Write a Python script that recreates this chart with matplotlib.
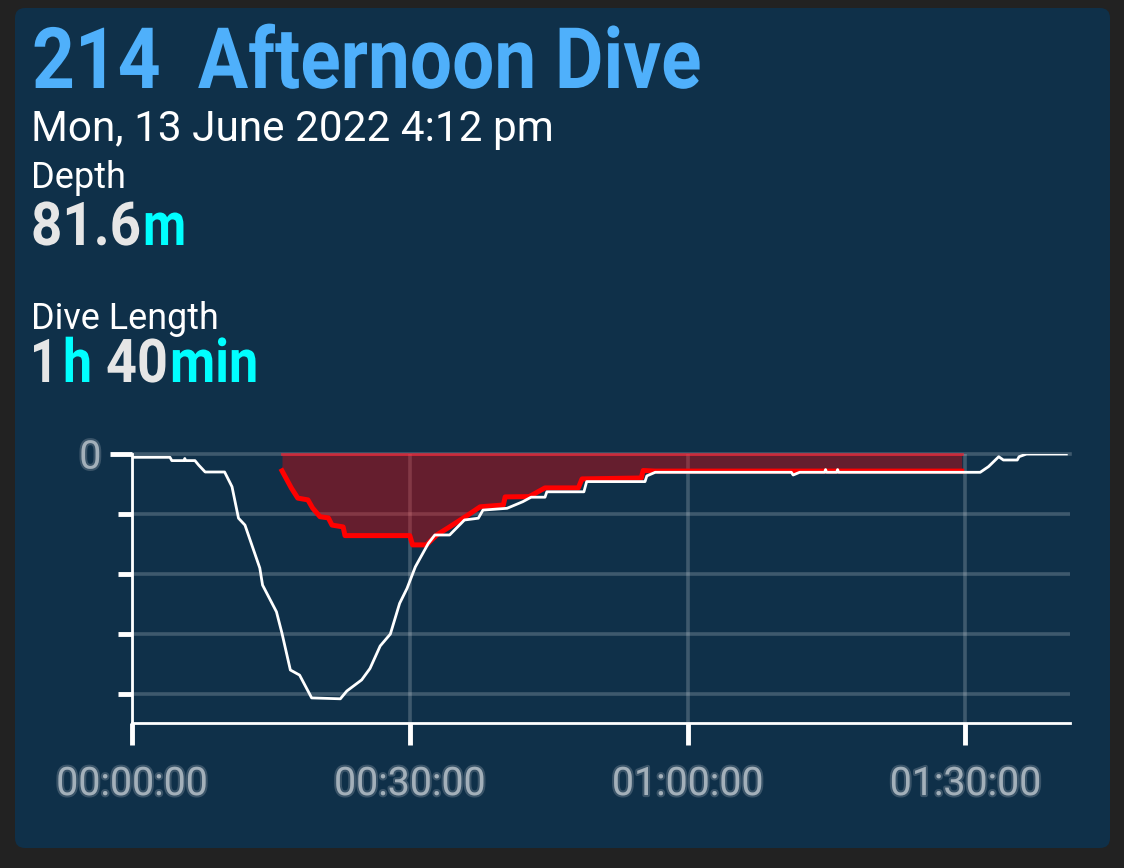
import matplotlib
matplotlib.use("Agg")
import matplotlib.pyplot as plt
import matplotlib.patheffects as pe
from matplotlib.patches import FancyBboxPatch
from matplotlib.transforms import Affine2D

W, H = 1124, 868

depth_time = [0.1, 4.1, 4.3, 5.6, 5.7, 5.8, 6.8, 7.2, 7.9, 10, 10.8, 11.5, 12.2, 13.8, 14.1, 15.6, 16.2, 17.1, 18.1,
              19.4, 22.5, 23.2, 24.8, 25.7, 26.8, 27.9, 28.9, 29.7, 30.6, 32, 32.7, 34.3, 35.9, 37.4, 37.9, 40.5,
              42.2, 43.1, 44.6, 44.8, 48.8, 49.1, 55.4, 55.6, 56.5, 71.2, 71.4, 72.1, 74.8, 74.9, 75.0, 76.1, 76.2,
              76.3, 91.6, 92.5, 93.6, 94.1, 95.6, 95.8, 96.6, 98.2, 100.9]
depth_m = [1.1, 1.1, 2.2, 2.2, 1.5, 2.2, 2.2, 3.7, 6, 6, 10.9, 21.4, 23.7, 38, 43.7, 52.6, 59.8, 72, 73.7,
           81.3, 81.6, 79, 75.3, 71.5, 64, 60, 49.8, 44.8, 37.6, 29.8, 27, 27, 22, 21.4, 18.7, 18.1,
           15.9, 14.4, 14.4, 12.6, 12.6, 9.2, 9.2, 7.3, 6.1, 6.1, 7, 6.1, 6.1, 5.2, 6.1, 6.1, 5.2,
           6.1, 6.1, 4.2, 0.9, 2, 2, 0.9, 0, 0, 0]
ceil_time = [16.2, 17.2, 17.9, 19, 19.5, 20.3, 21.2, 21.6, 22.8, 23, 30, 30.3, 31.8, 32.9, 34.3, 36.3, 37.6,
             40.1, 40.3, 42.9, 44.6, 48.2, 48.6, 55, 55.2, 56.5, 89.6]
ceil_m = [5.6, 11.3, 14.7, 15.3, 18, 20.9, 21.3, 23.7, 24.3, 27.2, 27.2, 30.3, 30.3, 27, 24.3, 20.3, 17.6,
          17, 14.3, 14.2, 11.3, 11.3, 8.3, 8, 5.5, 5.7, 5.7]
x_tick_min = [0, 30, 60, 90]
x_tick_labels = ["00:00:00", "00:30:00", "01:00:00", "01:30:00"]
y_tick_m = [0, 20, 40, 60, 80]
y_tick_labels = ["0", "", "", "", ""]

BG = "#222222"
PANEL = "#0f3049"

fig = plt.figure(figsize=(W / 100, H / 100), dpi=100, facecolor=BG)
bgax = fig.add_axes([0, 0, 1, 1])
bgax.set_xlim(0, W); bgax.set_ylim(H, 0); bgax.axis("off")
bgax.add_patch(FancyBboxPatch((23, 16), 1079, 824, boxstyle="round,pad=8,rounding_size=10",
                              fc=PANEL, ec="none"))
renderer = fig.canvas.get_renderer()


class Squeeze(pe.AbstractPathEffect):
    """Draws a text narrower around a fixed pixel column (no condensed font is installed)."""
    def __init__(self, anchor, factor):
        super().__init__()
        self.anchor, self.factor = anchor, factor

    def draw_path(self, rend, gc, tpath, affine, rgbFace=None):
        squeeze = Affine2D().translate(-self.anchor, 0).scale(self.factor, 1).translate(self.anchor, 0)
        rend.draw_path(gc, tpath, affine + squeeze, rgbFace)


def txt(x, y, s, size, color="white", weight="normal"):
    return bgax.text(x, y, s, fontsize=size, color=color, fontweight=weight,
                     family="Roboto", ha="left", va="baseline")


def cond(x0, x1, y, s, size, color, align="left"):
    """Bold text squeezed to span x0..x1 px; align picks the side its box is anchored on."""
    anchor = x0 if align == "left" else x1
    t = bgax.text(anchor, y, s, fontsize=size, color=color, fontweight="bold",
                  family="Roboto", ha=align, va="baseline")
    natural = t.get_window_extent(renderer).width
    t.set_path_effects([Squeeze(anchor, (x1 - x0) / natural)])
    return t


cond(32, 702, 88, "214  Afternoon Dive", 61, "#4fb0fb")
txt(31, 141, "Mon, 13 June 2022 4:12 pm", 30.4)
txt(31, 188, "Depth", 26)
cond(31, 141, 245, "81.6", 43.5, "#e6e6e6", "right")
cond(143, 186, 245, "m", 43.5, "#00ffff")
txt(31, 329, "Dive Length", 25.8)
cond(30, 58, 382, "1", 43.5, "#e6e6e6", "right")
cond(63, 92, 382, "h", 43.5, "#00ffff")
cond(106, 168, 382, "40", 43.5, "#e6e6e6", "right")
cond(170, 258, 382, "min", 43.5, "#00ffff")

# plot axes: left 132 px, right 1070 px, top 454 px (0 m), bottom 723 px
L, R, T, B = 132, 1070, 454, 723
ax = fig.add_axes([L / W, 1 - B / H, (R - L) / W, (B - T) / H])
ax.patch.set_alpha(0)
ax.set_xlim(0, (R - L) / 9.26)
ax.set_ylim((B - T) / 3.0, 0)
for s in ("top", "right"):
    ax.spines[s].set_visible(False)
for s in ("left", "bottom"):
    ax.spines[s].set_color("white")
    ax.spines[s].set_linewidth(2)

ax.set_xticks(x_tick_min, x_tick_labels)
ax.set_yticks(y_tick_m, y_tick_labels)
ax.grid(True, color="white", alpha=0.2, linewidth=2.6, zorder=1)
ax.set_axisbelow(True)
ax.tick_params(axis="x", length=16, width=3.5, color="white", pad=15)
ax.tick_params(axis="y", length=10, width=3.5, color="white", pad=12)
ax.yaxis.get_major_ticks()[0].tick1line.set_markersize(16)
ax.get_ygridlines()[0].set_clip_on(False)
halo = [pe.withStroke(linewidth=3, foreground="#8c9aa6", alpha=0.35)]
for t in ax.get_xticklabels() + ax.get_yticklabels():
    t.set_fontsize(28.3)
    t.set_family("Roboto")
    t.set_color("#a3b0ba")
    t.set_path_effects(halo)

ax.fill_between(ceil_time, 0, ceil_m, color="#ff0000", alpha=0.36, lw=0, zorder=2)
ax.plot([ceil_time[0], ceil_time[-1]], [0, 0], color="#ff2030", alpha=0.65, lw=2, zorder=3, clip_on=False)
ax.plot(ceil_time, ceil_m, color="#ff0000", lw=3.6, zorder=4)
ax.plot(depth_time, depth_m, color="white", lw=2, zorder=5)

fig.savefig("out.png", dpi=100, facecolor=BG)
